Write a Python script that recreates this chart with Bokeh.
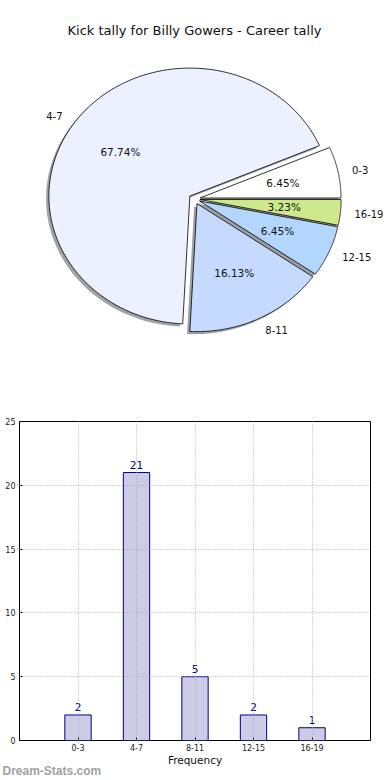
import numpy as np
from bokeh.plotting import figure
from bokeh.layouts import column, row
from bokeh.models import Range1d, Label, FixedTicker, ColumnDataSource, Title
from bokeh.core.properties import value
from bokeh.embed import file_html
from bokeh.resources import INLINE

# ---------------- data ----------------
categories = ["0-3", "4-7", "8-11", "12-15", "16-19"]
counts = [2, 21, 5, 2, 1]
slice_colors = ["#FFFFFF", "#EBF1FE", "#C6D9FE", "#B3D6FF", "#CDE98B"]
title_text = "Kick tally for Billy Gowers - Career tally"
x_axis_label = "Frequency"
y_ticks = [0, 5, 10, 15, 20, 25]
watermark = "Dream-Stats.com"

FONT = "DejaVu Sans"
explode = 0.04
shadow_off = 0.02

# ---------------- pie ----------------
total = float(sum(counts))
fracs = np.array(counts, dtype=float) / total
ends = np.cumsum(fracs) * 2 * np.pi
starts = ends - fracs * 2 * np.pi
mids = (starts + ends) / 2

xs, ys, sxs, sys_ = [], [], [], []
for a0, a1, m in zip(starts, ends, mids):
    ox, oy = explode * np.cos(m), explode * np.sin(m)
    t = np.linspace(a0, a1, 120)
    px = np.concatenate([[ox], ox + np.cos(t), [ox]])
    py = np.concatenate([[oy], oy + np.sin(t), [oy]])
    xs.append(px.tolist())
    ys.append(py.tolist())
    sxs.append((px - shadow_off).tolist())
    sys_.append((py - shadow_off).tolist())

def darker(hexc):
    r = int(hexc[1:3], 16); g = int(hexc[3:5], 16); b = int(hexc[5:7], 16)
    return "#%02x%02x%02x" % (int(r * 0.3), int(g * 0.3), int(b * 0.3))

shadow_colors = [darker(c) for c in slice_colors]

p1 = figure(width=390, height=400,
            x_range=Range1d(-1.3759, 1.3901), y_range=Range1d(-1.5742, 1.5508),
            output_backend="svg", toolbar_location=None,
            x_axis_location=None, y_axis_location=None,
            min_border_left=0, min_border_right=0, min_border_top=0, min_border_bottom=0)
p1.grid.grid_line_color = None
p1.outline_line_color = None

p1.patches(sxs, sys_, fill_color=shadow_colors, fill_alpha=0.5, line_color=None)
p1.patches(xs, ys, fill_color=slice_colors, line_color="black", line_width=0.8)

lab_r = 1.1 + explode
pct_r = 0.6 + explode
lx = lab_r * np.cos(mids)
ly = lab_r * np.sin(mids)
right_mask = lx >= 0
src_r = ColumnDataSource(dict(x=lx[right_mask], y=ly[right_mask],
                              t=[c for c, m in zip(categories, right_mask) if m]))
src_l = ColumnDataSource(dict(x=lx[~right_mask], y=ly[~right_mask],
                              t=[c for c, m in zip(categories, right_mask) if not m]))
p1.text(x="x", y="y", text="t", source=src_r, text_align="left", text_baseline="middle",
        text_font=value(FONT), text_font_size="10px", text_color="#111111")
p1.text(x="x", y="y", text="t", source=src_l, text_align="right", text_baseline="middle",
        text_font=value(FONT), text_font_size="10px", text_color="#111111")

pct_src = ColumnDataSource(dict(x=pct_r * np.cos(mids), y=pct_r * np.sin(mids),
                                t=["%.2f%%" % (f * 100) for f in fracs]))
p1.text(x="x", y="y", text="t", source=pct_src, text_align="center", text_baseline="middle",
        text_font=value(FONT), text_font_size="10.5px", text_color="#111111")

p1.add_layout(Label(x=0, y=1.316, text=title_text, text_align="center",
                    text_baseline="middle", text_font=FONT, text_font_size="13px",
                    text_color="#111111"))

# ---------------- bar ----------------
idx = list(range(len(categories)))
p2 = figure(frame_width=351, frame_height=319, x_range=Range1d(-1, 5), y_range=Range1d(0, 25),
            output_backend="svg", toolbar_location=None,
            min_border_left=19, min_border_right=20, min_border_top=21, min_border_bottom=38)
p2.vbar(x=idx, top=counts, width=0.45, fill_color="#CCCCE6", line_color="#000080", line_width=1)
p2.text(x=idx, y=counts, text=[str(c) for c in counts], text_align="center",
        text_baseline="bottom", y_offset=-4, text_color="#000080",
        text_font=value(FONT), text_font_size="10.5px")

p2.xaxis.ticker = FixedTicker(ticks=idx)
p2.xaxis.major_label_overrides = {i: c for i, c in zip(idx, categories)}
p2.yaxis.ticker = FixedTicker(ticks=y_ticks)
for ax in (p2.xaxis, p2.yaxis):
    ax.axis_line_color = None
    ax.major_tick_out = 0
    ax.major_tick_in = 3
    ax.minor_tick_line_color = None
    ax.major_label_text_font = FONT
    ax.major_label_text_font_size = "8px"
    ax.major_label_text_color = "#222222"
p2.xaxis.major_label_standoff = 3
p2.yaxis.major_label_standoff = 4
p2.xaxis.axis_label = x_axis_label
p2.xaxis.axis_label_text_font = FONT
p2.xaxis.axis_label_text_font_size = "10.5px"
p2.xaxis.axis_label_text_font_style = "normal"
p2.xaxis.axis_label_standoff = 0
p2.xaxis.axis_label_text_color = "#111111"

p2.grid.grid_line_dash = "1 2"
p2.grid.grid_line_color = "#aaaaaa"
p2.grid.grid_line_width = 1
p2.grid.level = "overlay"
p2.outline_line_color = "black"
p2.outline_line_width = 1
p2.outline_line_alpha = 1

p2.add_layout(Title(text=watermark, align="left", standoff=-13, offset=-17,
                    text_font="Liberation Sans", text_font_style="bold",
                    text_font_size="12px", text_color="#a0a0a0"), "below")

layout = column(p1, row(p2))
open("out.html", "w").write(file_html(layout, INLINE))
